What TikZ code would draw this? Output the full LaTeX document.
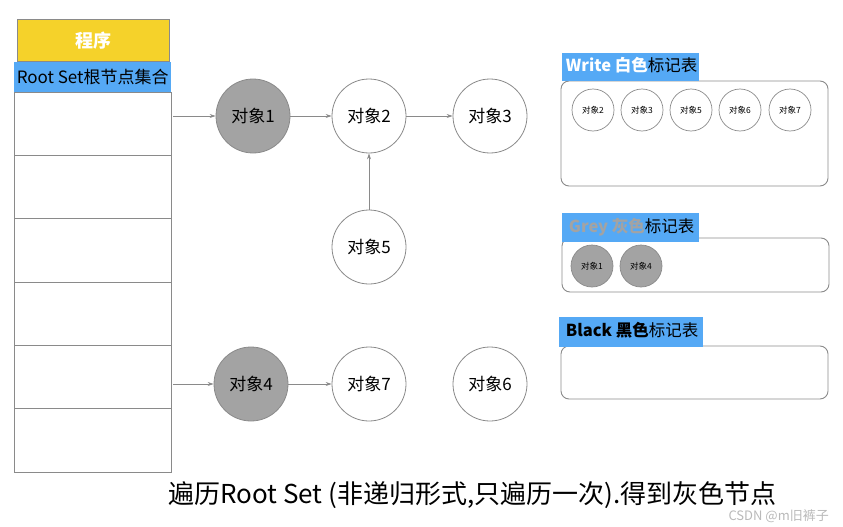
\documentclass[tikz,border=0pt]{standalone}
\usepackage{fontspec}
\setmainfont{Noto Sans CJK SC}
\usetikzlibrary{arrows.meta}
\definecolor{yel}{HTML}{F5D22A}
\definecolor{blu}{HTML}{55A9F5}
\definecolor{gfill}{HTML}{A3A3A3}
\definecolor{edge}{HTML}{8A8A8A}
\tikzset{
  obj/.style={circle,draw=edge,line width=0.8pt,minimum size=74pt,inner sep=0pt,font=\fontsize{17}{17}\selectfont},
  grayobj/.style={obj,fill=gfill},
  smallobj/.style={circle,draw=edge,line width=0.7pt,minimum size=42pt,inner sep=0pt,font=\fontsize{8.5}{9}\selectfont},
  smallgray/.style={smallobj,fill=gfill},
  cell/.style={draw=edge,line width=0.7pt,fill=white},
  tbl/.style={draw=edge,line width=0.9pt,rounded corners=8pt},
  hdr/.style={fill=blu,inner sep=0pt,anchor=north west,text height=13pt,text depth=4pt,font=\fontsize{16.5}{16.5}\selectfont},
  arr/.style={-{Stealth[length=6pt,width=4pt]},draw=edge,line width=0.7pt}
}
\begin{document}
\begin{tikzpicture}[x=1pt,y=-1pt]
\useasboundingbox (0,0) rectangle (843,527);
% program box
\node[draw=edge,fill=yel,minimum width=152pt,minimum height=42pt,inner sep=0pt,anchor=north west,text=white,font=\fontsize{18}{18}\selectfont\bfseries] (prog) at (17,19) {程序};
% column cells
\foreach \i/\a/\b in {1/92/155,2/155/218,3/218/282,4/282/345,5/345/408,6/408/472}{
  \draw[cell] (14,\a) rectangle (171,\b);
}
\node[fill=blu,minimum width=157pt,minimum height=30pt,inner sep=0pt,anchor=north west,font=\fontsize{17}{17}\selectfont] (root) at (14,62) {Root Set根节点集合};
\coordinate (r1) at (173,116);
\coordinate (r5) at (173,384);
% objects
\node[grayobj] (o1) at (253,116) {对象1};
\node[obj] (o2) at (369,116) {对象2};
\node[obj] (o3) at (490,116) {对象3};
\node[obj] (o5) at (369,247) {对象5};
\node[grayobj] (o4) at (251,384) {对象4};
\node[obj] (o7) at (369,384) {对象7};
\node[obj] (o6) at (490,384) {对象6};
\draw[arr] (r1) -- (o1);
\draw[arr] (o1) -- (o2);
\draw[arr] (o2) -- (o3);
\draw[arr] (o5) -- (o2);
\draw[arr] (r5) -- (o4);
\draw[arr] (o4) -- (o7);
% write table
\draw[tbl] (561,81) rectangle (828,186);
\node[hdr,minimum width=137pt,minimum height=28pt] (wh) at (562,53) {\hspace{2pt}\textcolor{white}{\bfseries Write 白色}标记表\hspace{2pt}};
\node[smallobj] (w2) at (593,110) {对象2};
\node[smallobj] (w3) at (642,110) {对象3};
\node[smallobj] (w5) at (691,110) {对象5};
\node[smallobj] (w6) at (740,110) {对象6};
\node[smallobj] (w7) at (790,110) {对象7};
% grey table
\draw[tbl] (562,238) rectangle (829,292);
\node[hdr,minimum width=137pt,minimum height=29pt] (gh) at (562,213) {\hspace{2pt}\textcolor{gfill}{\bfseries Grey 灰色}标记表\hspace{2pt}};
\node[smallgray] (g1) at (592,266) {对象1};
\node[smallgray] (g4) at (641,266) {对象4};
% black table
\draw[tbl] (561,346) rectangle (828,399);
\node[hdr,minimum width=144pt,minimum height=30pt] (bh) at (559,317) {\hspace{2pt}{\bfseries Black 黑色}标记表\hspace{2pt}};
% caption
\node[anchor=west,font=\fontsize{26}{26}\selectfont,inner sep=0pt] (cap) at (168,495) {遍历Root Set (非递归形式,只遍历一次).得到灰色节点};
\node[anchor=east,font=\fontsize{13}{13}\selectfont,text=gray!55,inner sep=0pt] (wm) at (829,516) {CSDN @m旧裤子};
\end{tikzpicture}
\end{document}
